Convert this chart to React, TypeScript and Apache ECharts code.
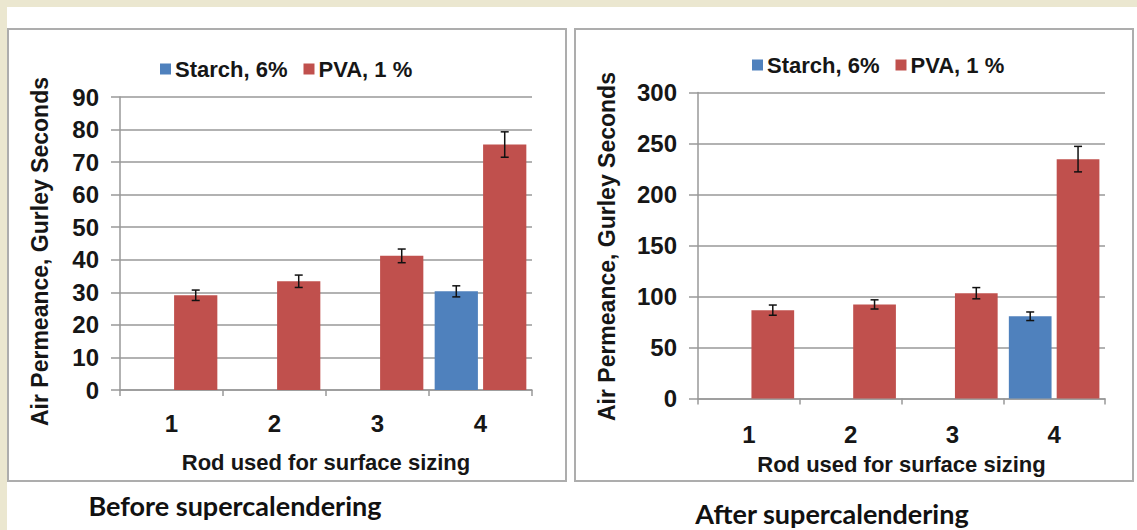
import React, { useEffect, useRef } from "react";
import * as echarts from "echarts";

const categories = ["1", "2", "3", "4"];
const seriesNames = ["Starch, 6%", "PVA, 1 %"];

const beforeStarch = [null, null, null, 30.3];
const beforeStarchErr = [null, null, null, 1.7];
const beforePVA = [29.1, 33.4, 41.2, 75.4];
const beforePVAErr = [1.6, 1.9, 2.1, 3.9];

const afterStarch = [null, null, null, 80.7];
const afterStarchErr = [null, null, null, 4.2];
const afterPVA = [86.7, 92.3, 103.3, 234.7];
const afterPVAErr = [5, 4.5, 5.5, 12.5];

const beforeAxis = { min: 0, max: 90, interval: 10 };
const afterAxis = { min: 0, max: 300, interval: 50 };

const captions = ["Before supercalendering", "After supercalendering"];
const yAxisTitle = "Air Permeance, Gurley Seconds";
const xAxisTitle = "Rod used for surface sizing";

const BLUE = "#4F81BD";
const RED = "#C0504D";
const GRID = "#999999";
const TEXT = "#161616";
const FONT = "'Liberation Sans', Arial, sans-serif";
const CAT_GAP = 0.11;
const BAR_GAP = 0.12;

function errData(values: (number | null)[], errs: (number | null)[]) {
  const out: number[][] = [];
  values.forEach((v, i) => {
    if (v != null && errs[i] != null) out.push([i, v, errs[i] as number]);
  });
  return out;
}

function errRender(sign: number) {
  return (params: any, api: any) => {
    const idx = api.value(0);
    const v = api.value(1);
    const e = api.value(2);
    const catW = api.size([1, 0])[0];
    const b = (catW * (1 - CAT_GAP)) / (2 + BAR_GAP);
    const dx = (sign * (b + BAR_GAP * b)) / 2;
    const top = api.coord([idx, v + e]);
    const bot = api.coord([idx, v - e]);
    const x = top[0] + dx;
    const hw = 4;
    const st = { stroke: "#111", lineWidth: 1.5 };
    return {
      type: "group",
      children: [
        { type: "line", shape: { x1: x, y1: top[1], x2: x, y2: bot[1] }, style: st },
        { type: "line", shape: { x1: x - hw, y1: top[1], x2: x + hw, y2: top[1] }, style: st },
        { type: "line", shape: { x1: x - hw, y1: bot[1], x2: x + hw, y2: bot[1] }, style: st },
      ],
    };
  };
}

function xAxisFor(gridIndex: number, labelMargin: number, nameGap: number) {
  return {
    type: "category",
    gridIndex,
    data: categories,
    axisLine: { show: true, lineStyle: { color: GRID, width: 1.5 } },
    axisTick: { show: true, length: 6, lineStyle: { color: GRID, width: 1.5 } },
    axisLabel: { fontSize: 24, fontWeight: "bold", fontFamily: FONT, color: TEXT, margin: labelMargin },
    name: xAxisTitle,
    nameLocation: "middle",
    nameGap,
    nameTextStyle: { fontSize: 22, fontWeight: "bold", fontFamily: FONT, color: TEXT },
  };
}

function yAxisFor(gridIndex: number, ax: { min: number; max: number; interval: number }, nameGap: number, shift: number) {
  return {
    type: "value",
    gridIndex,
    min: ax.min,
    max: ax.max,
    interval: ax.interval,
    axisLine: { show: true, lineStyle: { color: GRID, width: 1.5 } },
    axisTick: { show: true, length: 9, lineStyle: { color: GRID, width: 1.5 } },
    splitLine: { show: true, lineStyle: { color: GRID, width: 1.5 } },
    axisLabel: { fontSize: 24, fontWeight: "bold", fontFamily: FONT, color: TEXT, margin: 21 },
    name: yAxisTitle,
    nameLocation: "middle",
    nameGap,
    nameRotate: 90,
    nameTextStyle: { fontSize: 23, fontWeight: "bold", fontFamily: FONT, color: TEXT, padding: [0, shift, 0, 0] },
  };
}

function barSeries(name: string, data: (number | null)[], color: string, idx: number) {
  return {
    type: "bar",
    name,
    xAxisIndex: idx,
    yAxisIndex: idx,
    data: data.map((v) => (v == null ? "-" : v)),
    itemStyle: { color },
    barCategoryGap: CAT_GAP * 100 + "%",
    barGap: BAR_GAP * 100 + "%",
  };
}

function errSeries(values: (number | null)[], errs: (number | null)[], sign: number, idx: number) {
  return {
    type: "custom",
    name: "err" + idx + "_" + sign,
    xAxisIndex: idx,
    yAxisIndex: idx,
    z: 10,
    encode: { x: 0, y: 1 },
    data: errData(values, errs),
    renderItem: errRender(sign),
  };
}

export default function App() {
  const ref = useRef<HTMLDivElement>(null);
  useEffect(() => {
    document.body.style.margin = "0";
    if (!ref.current) return;
    const chart = echarts.init(ref.current, null, { renderer: "svg" });
    const legendBase = {
      data: seriesNames,
      orient: "horizontal",
      icon: "rect",
      itemWidth: 11,
      itemHeight: 11,
      itemGap: 16,
      textStyle: { fontSize: 22, fontWeight: "bold", fontFamily: FONT, color: TEXT, padding: [0, 0, 0, -1] },
    };
    const capStyle = { fontSize: 27, fontWeight: "bold", fontFamily: "Lato, sans-serif", fill: "#111", textAlign: "center", textVerticalAlign: "middle" };
    chart.setOption({
      animation: false,
      backgroundColor: "#ffffff",
      graphic: [
        { type: "rect", shape: { x: 0, y: 0, width: 1137, height: 7 }, style: { fill: "#EBE7D0" }, z: -10 },
        { type: "rect", shape: { x: 0, y: 0, width: 7, height: 530 }, style: { fill: "#EBE7D0" }, z: -10 },
        { type: "rect", shape: { x: 8, y: 29, width: 558, height: 452 }, style: { fill: "none", stroke: "#ADADAD", lineWidth: 2 }, z: -5 },
        { type: "rect", shape: { x: 575, y: 29, width: 558, height: 452 }, style: { fill: "none", stroke: "#ADADAD", lineWidth: 2 }, z: -5 },
        { type: "text", x: 235, y: 505, style: { ...capStyle, text: captions[0] } },
        { type: "text", x: 832, y: 513, style: { ...capStyle, text: captions[1] } },
      ],
      legend: [
        { ...legendBase, left: 155, top: 53 },
        { ...legendBase, left: 747, top: 49 },
      ],
      grid: [
        { left: 120, right: 1137 - 532, top: 97, bottom: 530 - 390 },
        { left: 698, right: 1137 - 1105, top: 92.5, bottom: 530 - 398.6 },
      ],
      xAxis: [xAxisFor(0, 21, 61), xAxisFor(1, 24, 55)],
      yAxis: [yAxisFor(0, beforeAxis, 69, 16), yAxisFor(1, afterAxis, 80, 2)],
      series: [
        barSeries(seriesNames[0], beforeStarch, BLUE, 0),
        barSeries(seriesNames[1], beforePVA, RED, 0),
        barSeries(seriesNames[0], afterStarch, BLUE, 1),
        barSeries(seriesNames[1], afterPVA, RED, 1),
        errSeries(beforeStarch, beforeStarchErr, -1, 0),
        errSeries(beforePVA, beforePVAErr, 1, 0),
        errSeries(afterStarch, afterStarchErr, -1, 1),
        errSeries(afterPVA, afterPVAErr, 1, 1),
      ],
    });
    return () => chart.dispose();
  }, []);
  return (
    <div
      ref={ref}
      style={{ position: "absolute", left: 0, top: 0, width: 1137, height: 530, overflow: "hidden" }}
    />
  );
}
